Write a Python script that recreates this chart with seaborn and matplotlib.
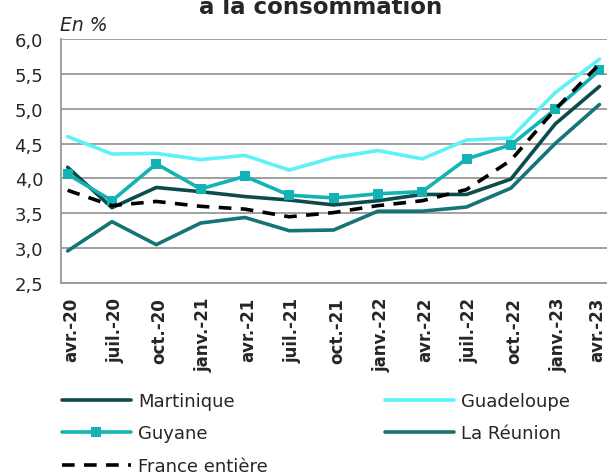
import pandas as pd
import seaborn as sns
import matplotlib.pyplot as plt
from matplotlib.lines import Line2D

# trimestres
mois = ["avr.-20", "juil.-20", "oct.-20", "janv.-21", "avr.-21", "juil.-21", "oct.-21",
        "janv.-22", "avr.-22", "juil.-22", "oct.-22", "janv.-23", "avr.-23"]

martinique = [4.16, 3.58, 3.87, 3.81, 3.74, 3.69, 3.62, 3.68, 3.77, 3.77, 3.99, 4.78, 5.32]
guadeloupe = [4.60, 4.35, 4.36, 4.27, 4.33, 4.12, 4.30, 4.40, 4.28, 4.55, 4.58, 5.23, 5.71]
guyane = [4.06, 3.68, 4.21, 3.85, 4.03, 3.76, 3.72, 3.78, 3.81, 4.28, 4.48, 4.99, 5.55]
reunion = [2.96, 3.38, 3.05, 3.36, 3.44, 3.25, 3.26, 3.53, 3.53, 3.59, 3.86, 4.50, 5.06]
france = [3.83, 3.61, 3.67, 3.60, 3.56, 3.45, 3.51, 3.61, 3.68, 3.84, 4.26, 4.99, 5.64]

y_ticks = [2.5, 3.0, 3.5, 4.0, 4.5, 5.0, 5.5, 6.0]

series = {"Martinique": martinique, "Guadeloupe": guadeloupe, "Guyane": guyane,
          "La Réunion": reunion, "France entière": france}
couleurs = {"Martinique": "#0d4c4c", "Guadeloupe": "#5ef2f6", "Guyane": "#13b3b5",
            "La Réunion": "#157575", "France entière": "#000000"}

tableau = pd.DataFrame(series)
tableau["x"] = range(len(mois))

sns.set_style("white")
plt.rcParams["font.family"] = ["DejaVu Sans"]

fig = plt.figure(figsize=(6.07, 4.77), dpi=100)
ax = fig.add_axes([61 / 607, 1 - 284 / 477, 546 / 607, 244 / 477])

lw = 2.6
sns.lineplot(data=tableau, x="x", y="Martinique", ax=ax, color=couleurs["Martinique"], lw=lw)
sns.lineplot(data=tableau, x="x", y="Guadeloupe", ax=ax, color=couleurs["Guadeloupe"], lw=lw)
sns.lineplot(data=tableau, x="x", y="Guyane", ax=ax, color=couleurs["Guyane"], lw=lw,
             marker="s", markersize=7.5, markeredgewidth=0)
sns.lineplot(data=tableau, x="x", y="La Réunion", ax=ax, color=couleurs["La Réunion"], lw=lw)
sns.lineplot(data=tableau, x="x", y="France entière", ax=ax, color=couleurs["France entière"],
             lw=lw)
ax.lines[-1].set_dashes((3.5, 2.6))

ax.set_xlim(-0.15, 12.17)
ax.set_ylim(2.5, 6.0)
ax.set_yticks(y_ticks)
ax.set_yticklabels([("%.1f" % v).replace(".", ",") for v in y_ticks], fontsize=13)
# étiquettes décalées comme dans Excel, la dernière rentrée dans le cadre
pos_lab = [i + 0.075 for i in range(len(mois) - 1)] + [11.95]
ax.set_xticks(pos_lab)
ax.set_xticklabels(mois, rotation=90, fontsize=12, fontweight="bold")
ax.set_xticks([i - 0.15 for i in range(len(mois))], minor=True)
ax.tick_params(axis="x", which="major", length=0, pad=10)
ax.tick_params(axis="x", which="minor", length=4, width=1.3, color="#999999", direction="out")
ax.tick_params(axis="y", length=4.3, width=1.3, color="#999999", pad=8.5, direction="out")
ax.set(xlabel="", ylabel="")

ax.yaxis.grid(True, color="#999999", lw=1.3)
ax.set_axisbelow(True)
for s in ["top", "right"]:
    ax.spines[s].set_visible(False)
for s in ["left", "bottom"]:
    ax.spines[s].set_color("#999999")
    ax.spines[s].set_linewidth(1.3)

fig.text(321 / 607, 1 - 14 / 477, "à la consommation", ha="center", va="baseline",
         fontsize=16.5, fontweight="bold")
fig.text(60 / 607, 1 - 31 / 477, "En %", ha="left", va="baseline", fontsize=13.5, style="italic")

ordre = ["Martinique", "Guyane", "France entière", "Guadeloupe", "La Réunion"]
poignees = []
for nom in ordre:
    if nom == "Guyane":
        h = Line2D([], [], color=couleurs[nom], lw=lw, marker="s", markersize=7.5, markeredgewidth=0)
    elif nom == "France entière":
        h = Line2D([], [], color=couleurs[nom], lw=lw, dashes=(3.5, 2.6))
    else:
        h = Line2D([], [], color=couleurs[nom], lw=lw)
    poignees.append(h)

fig.legend(poignees, ordre, loc="upper left", bbox_to_anchor=(62 / 607, 1 - 393 / 477),
           ncol=2, frameon=False, fontsize=13, handlelength=3.8, handletextpad=0.4,
           columnspacing=6.5, labelspacing=0.8, borderpad=0, borderaxespad=0)

plt.savefig("out.png", dpi=100)
